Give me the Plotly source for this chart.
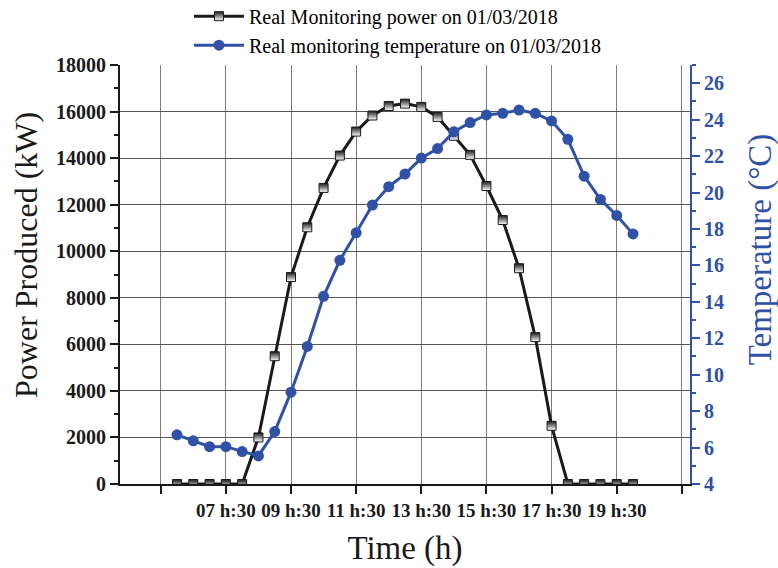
import plotly.graph_objects as go

# time in decimal hours (06:00 .. 20:00, every 30 min)
times = [6.0, 6.5, 7.0, 7.5, 8.0, 8.5, 9.0, 9.5, 10.0, 10.5, 11.0, 11.5, 12.0, 12.5,
         13.0, 13.5, 14.0, 14.5, 15.0, 15.5, 16.0, 16.5, 17.0, 17.5, 18.0, 18.5,
         19.0, 19.5, 20.0]
power_kw = [0, 0, 0, 0, 0, 2000, 5490, 8890, 11030, 12720, 14110, 15140, 15830, 16240,
            16340, 16200, 15770, 14960, 14140, 12800, 11340, 9270, 6310, 2500, 0, 0,
            0, 0, 0]
temperature_c = [6.70, 6.37, 6.05, 6.05, 5.78, 5.54, 6.88, 9.04, 11.55, 14.30, 16.28,
                 17.79, 19.31, 20.32, 21.01, 21.89, 22.41, 23.34, 23.84, 24.26, 24.35,
                 24.53, 24.35, 23.93, 22.92, 20.90, 19.62, 18.74, 17.73]
x_tickvals = [5.5, 7.5, 9.5, 11.5, 13.5, 15.5, 17.5, 19.5, 21.5]
x_ticktext = ["", "07 h:30", "09 h:30", "11 h:30", "13 h:30", "15 h:30", "17 h:30",
              "19 h:30", ""]

BLUE = "#2F51A6"
BLACK = "#1a1a1a"
SERIF = "Liberation Serif"

fig = go.Figure()
fig.add_trace(go.Scatter(
    x=times, y=power_kw, mode="lines+markers",
    name="Real Monitoring power on 01/03/2018",
    line=dict(color=BLACK, width=3),
    marker=dict(symbol="square", size=9, color=BLACK,
                gradient=dict(type="vertical", color="white"),
                line=dict(color=BLACK, width=1)),
))
fig.add_trace(go.Scatter(
    x=times, y=temperature_c, mode="lines+markers", yaxis="y2",
    name="Real monitoring temperature on 01/03/2018",
    line=dict(color=BLUE, width=3),
    marker=dict(symbol="circle", size=11, color=BLUE),
))

fig.update_layout(
    width=778, height=568,
    margin=dict(l=120, r=88, t=65, b=84, autoexpand=False),
    paper_bgcolor="white", plot_bgcolor="white",
    font=dict(family=SERIF, color="black"),
    showlegend=True,
    legend=dict(x=0.121, xanchor="left", y=1.163, yanchor="top",
                font=dict(family=SERIF, size=20, color="black"),
                bgcolor="rgba(0,0,0,0)", itemwidth=50, tracegroupgap=0),
    xaxis=dict(
        range=[4.25, 21.75], tickmode="array", tickvals=x_tickvals, ticktext=x_ticktext,
        ticks="outside", ticklen=8, tickwidth=1.5, tickcolor=BLACK,
        showline=True, linecolor=BLACK, linewidth=2,
        showgrid=True, gridcolor="#7a7a7a", gridwidth=1,
        zeroline=False,
        tickfont=dict(family=SERIF, size=19, weight="bold", color=BLACK),
        title=dict(text="Time (h)", font=dict(family=SERIF, size=33, color=BLACK),
                   standoff=16),
    ),
    yaxis=dict(
        range=[0, 18000], tickmode="linear", tick0=0, dtick=2000, tickformat="d",
        ticks="outside", ticklen=8, tickwidth=1.5, tickcolor=BLACK,
        minor=dict(ticks="outside", dtick=1000, ticklen=4, tickcolor=BLACK, showgrid=False),
        showline=True, linecolor=BLACK, linewidth=2,
        showgrid=True, gridcolor="#555555", gridwidth=1,
        zeroline=False,
        tickfont=dict(family=SERIF, size=20, weight="bold", color=BLACK),
    ),
    yaxis2=dict(
        range=[4, 27], overlaying="y", side="right", anchor="x",
        tickmode="linear", tick0=4, dtick=2,
        ticks="outside", ticklen=8, tickwidth=1.5, tickcolor=BLUE,
        minor=dict(ticks="outside", dtick=1, ticklen=4, tickcolor=BLUE, showgrid=False),
        showline=True, linecolor=BLUE, linewidth=2,
        showgrid=False, zeroline=False,
        tickfont=dict(family=SERIF, size=20, weight="bold", color=BLUE),
    ),
    annotations=[
        dict(text="Power Produced (kW)", textangle=-90, xref="paper", yref="paper",
             x=-0.165, y=0.5465, xanchor="center", yanchor="middle", showarrow=False,
             font=dict(family=SERIF, size=32, color=BLACK)),
        dict(text="Temperature (°C)", textangle=-90, xref="paper", yref="paper",
             x=1.1228, y=0.56, xanchor="center", yanchor="middle", showarrow=False,
             font=dict(family=SERIF, size=33, color=BLUE)),
    ],
)

fig.write_html("out.html")
